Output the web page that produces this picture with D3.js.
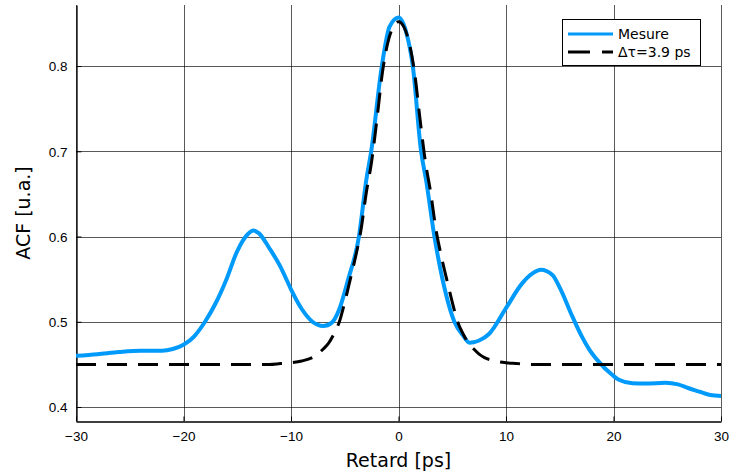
<!DOCTYPE html>
<html>
<head>
<meta charset="utf-8">
<script src="https://cdn.jsdelivr.net/npm/d3@7"></script>
<style>
    body { margin: 0; background: #fff; }
    svg { font-family: "DejaVu Sans", sans-serif; }
    .grid line { stroke: #000; stroke-opacity: 0.65; stroke-width: 1; }
    .tick text { fill: #000; }
</style>
</head>
<body>
<script>
// measured autocorrelation (delay in ps, ACF in a.u.)
var mesureX = [-30, -28, -26, -24, -22, -21, -20, -19, -18, -17, -16, -15, -14, -13.5, -13, -12, -11, -10.4, -10, -9, -8, -7, -6.2, -5.5, -4.7, -3.68, -3.0, -2.54, -1.55, -0.84, 0, 0.71, 1.33, 2.1, 2.57, 3.34, 4.11, 5.2, 6.0, 6.6, 7.0, 7.5, 8.44, 10, 11.5, 12.5, 13.24, 14.32, 15, 16.18, 17, 17.72, 18.5, 19.9, 20.5, 21.76, 23, 24.85, 26, 27, 28, 29, 30];
var mesureY = [0.460, 0.462, 0.4645, 0.466, 0.466, 0.468, 0.473, 0.483, 0.500, 0.522, 0.550, 0.583, 0.603, 0.607, 0.604, 0.586, 0.565, 0.549, 0.538, 0.515, 0.500, 0.495, 0.499, 0.515, 0.549, 0.600, 0.666, 0.700, 0.800, 0.846, 0.857, 0.840, 0.800, 0.700, 0.666, 0.600, 0.549, 0.500, 0.484, 0.4755, 0.476, 0.478, 0.486, 0.516, 0.545, 0.557, 0.561, 0.555, 0.540, 0.506, 0.484, 0.468, 0.455, 0.4375, 0.432, 0.428, 0.4275, 0.4285, 0.4265, 0.422, 0.418, 0.414, 0.413];

// fitted curve, tau = 3.9 ps
var fitX = [-30, -20, -12, -11, -10, -9, -8, -7.5, -7, -6.5, -6, -5.5, -5, -4.5, -4, -3.5, -3, -2.5, -2, -1.5, -1, -0.5, 0, 0.5, 1, 1.5, 2, 2.5, 3, 3.5, 4, 4.5, 5, 5.5, 6, 6.5, 7, 7.5, 8, 9, 10, 11, 12, 20, 30];
var fitY = [0.450, 0.450, 0.450, 0.451, 0.452, 0.454, 0.458, 0.462, 0.468, 0.475, 0.486, 0.500, 0.523, 0.549, 0.576, 0.607, 0.651, 0.688, 0.738, 0.792, 0.827, 0.846, 0.852, 0.846, 0.827, 0.792, 0.738, 0.688, 0.651, 0.607, 0.576, 0.549, 0.523, 0.500, 0.486, 0.475, 0.468, 0.462, 0.458, 0.454, 0.452, 0.451, 0.450, 0.450, 0.450];

var xTicks = [-30, -20, -10, 0, 10, 20, 30];
var yTicks = [0.4, 0.5, 0.6, 0.7, 0.8];
var seriesNames = ["Mesure", "\u0394\u03c4=3.9 ps"];

(function(){

    var width = 731, height = 476;
    var left = 76, right = 721, top = 5, bottom = 421;
    var blue = "#009afa";

    var svg = d3.select("body")
        .append("svg")
        .attr("width", width)
        .attr("height", height);

    //scales
    var x = d3.scaleLinear().domain([-30, 30]).range([left, right]);
    var y = d3.scaleLinear().domain([0.3836, 0.8716]).range([bottom, top]);

    //grid lines
    var grid = svg.append("g").attr("class", "grid");
    grid.selectAll(".gx")
        .data(xTicks)
        .enter()
        .append("line")
        .attr("x1", function(d){ return Math.round(x(d)) + 0.5; })
        .attr("x2", function(d){ return Math.round(x(d)) + 0.5; })
        .attr("y1", top)
        .attr("y2", bottom);
    grid.selectAll(".gy")
        .data(yTicks)
        .enter()
        .append("line")
        .attr("y1", function(d){ return Math.round(y(d)) + 0.5; })
        .attr("y2", function(d){ return Math.round(y(d)) + 0.5; })
        .attr("x1", left)
        .attr("x2", right);

    //axes
    var fmtX = function(d){ return d < 0 ? "\u2212" + Math.abs(d) : String(d); };
    var xAxis = d3.axisBottom(x).tickValues(xTicks).tickFormat(fmtX).tickSizeInner(-5).tickSizeOuter(0).tickPadding(10);
    var yAxis = d3.axisLeft(y).tickValues(yTicks).tickFormat(d3.format(".1f")).tickSizeInner(-5).tickSizeOuter(0).tickPadding(9);

    var gx = svg.append("g")
        .attr("transform", "translate(0," + (bottom + 0.5) + ")")
        .call(xAxis);
    var gy = svg.append("g")
        .attr("transform", "translate(" + (left + 0.5) + ",0)")
        .call(yAxis);
    [gx, gy].forEach(function(g){
        g.select(".domain").attr("stroke", "#000").attr("stroke-width", 1.3);
        g.selectAll(".tick line").attr("stroke", "#000");
    });
    gx.selectAll(".tick text").attr("font-size", 13.5);
    gy.selectAll(".tick text").attr("font-size", 13.5).attr("dy", "0.35em");

    //axis titles
    svg.append("text")
        .attr("x", (left + right) / 2)
        .attr("y", 467)
        .attr("text-anchor", "middle")
        .attr("font-size", 19)
        .text("Retard [ps]");
    svg.append("text")
        .attr("transform", "translate(30," + ((top + bottom) / 2) + ") rotate(-90)")
        .attr("text-anchor", "middle")
        .attr("font-size", 19)
        .text("ACF [u.a.]");

    //clip the curves to the plot area
    svg.append("clipPath").attr("id", "clip")
        .append("rect")
        .attr("x", left).attr("y", top)
        .attr("width", right - left).attr("height", bottom - top);

    var line = d3.line()
        .x(function(d){ return x(d[0]); })
        .y(function(d){ return y(d[1]); })
        .curve(d3.curveMonotoneX);

    var plot = svg.append("g").attr("clip-path", "url(#clip)");

    plot.append("path")
        .datum(d3.zip(mesureX, mesureY))
        .attr("d", line)
        .attr("fill", "none")
        .attr("stroke", blue)
        .attr("stroke-width", 4)
        .attr("stroke-linejoin", "round");

    plot.append("path")
        .datum(d3.zip(fitX, fitY))
        .attr("d", line)
        .attr("fill", "none")
        .attr("stroke", "#000")
        .attr("stroke-width", 3)
        .attr("stroke-dasharray", "20 11");

    //legend
    var legend = svg.append("g");
    legend.append("rect")
        .attr("x", 562.5).attr("y", 19.5)
        .attr("width", 138).attr("height", 46)
        .attr("fill", "#fff")
        .attr("stroke", "#000")
        .attr("stroke-width", 1);
    var styles = [
        {stroke: blue, dash: null, w: 3},
        {stroke: "#000", dash: "22 12", w: 3}
    ];
    seriesNames.forEach(function(name, i){
        var ly = 34 + i * 18;
        legend.append("line")
            .attr("x1", 568).attr("x2", 613)
            .attr("y1", ly).attr("y2", ly)
            .attr("stroke", styles[i].stroke)
            .attr("stroke-width", styles[i].w)
            .attr("stroke-dasharray", styles[i].dash);
        legend.append("text")
            .attr("x", 618)
            .attr("y", ly)
            .attr("dy", "0.35em")
            .attr("font-size", 14)
            .text(name);
    });

})();
</script>
</body>
</html>
